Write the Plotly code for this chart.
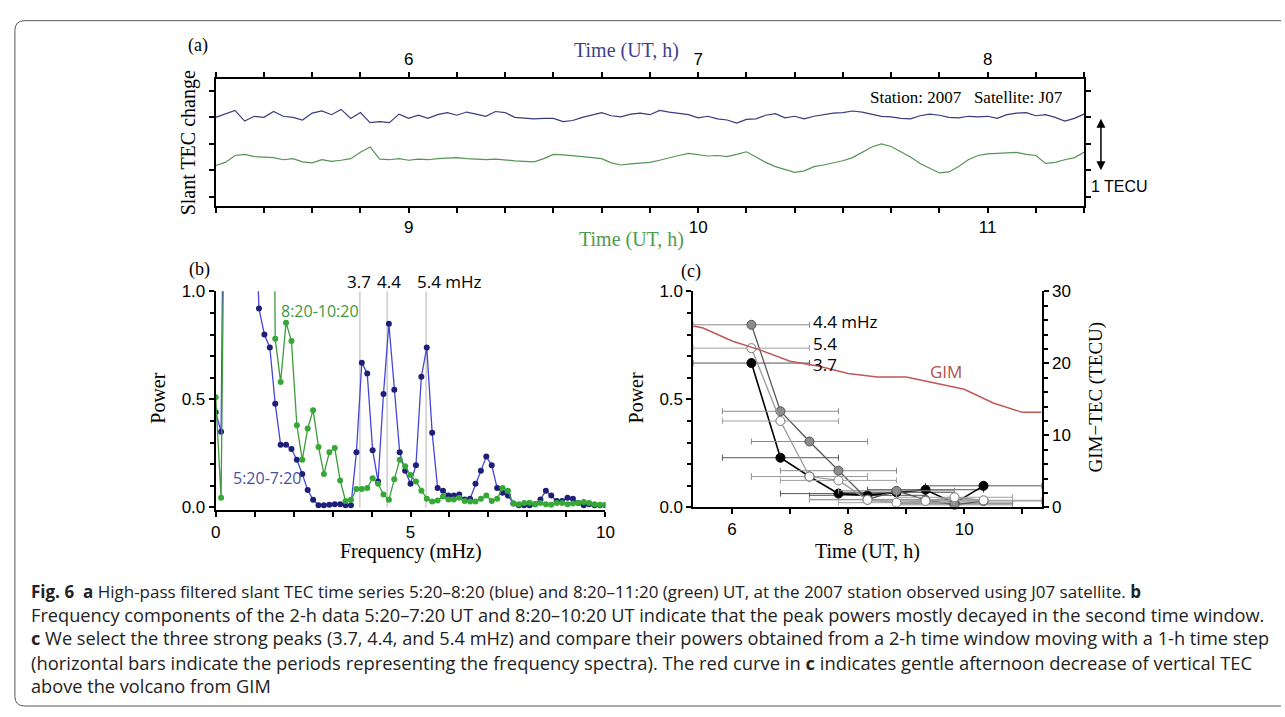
import plotly.graph_objects as go

W, H = 1285, 717

# ---------------- data ----------------
# (a) high-pass filtered slant TEC change (TECU), one sample every 2 min
SAMPLE_MIN = 2
BLUE_START_H = 5 + 20 / 60    # 5:20 UT
GREEN_START_H = 8 + 20 / 60   # 8:20 UT
BLUE_TEC = [0.0, 0.06, 0.13, -0.07, 0.02, 0.0, 0.11, 0.02, 0.0, -0.05,
            0.08, 0.12, 0.05, 0.15, -0.02, 0.09, -0.1, -0.08, -0.1, 0.06,
            -0.02, 0.04, -0.02, 0.05, 0.09, 0.04, 0.1, 0.06, 0.02, 0.11,
            0.09, 0.0, -0.02, -0.03, -0.02, -0.02, -0.08, -0.06, 0.0, 0.05,
            0.09, 0.03, 0.01, 0.06, 0.08, 0.05, 0.13, 0.1, 0.07, 0.05,
            -0.01, 0.02, -0.03, -0.05, -0.11, -0.04, -0.03, 0.04, 0.07, -0.01,
            0.02, -0.03, 0.02, 0.05, 0.08, 0.09, 0.12, 0.1, 0.06, 0.02,
            0.01, -0.02, -0.03, 0.03, 0.06, 0.04, 0.0, -0.01, 0.02, 0.01,
            0.02, -0.02, 0.05, 0.08, 0.09, 0.03, 0.05, 0.0, -0.07, -0.02,
            0.06]
GREEN_TEC = [-0.91, -0.85, -0.72, -0.7, -0.74, -0.75, -0.76, -0.8, -0.78, -0.84,
             -0.86, -0.8, -0.83, -0.81, -0.78, -0.66, -0.56, -0.79, -0.8, -0.78,
             -0.81, -0.79, -0.8, -0.78, -0.77, -0.76, -0.78, -0.79, -0.8, -0.79,
             -0.81, -0.82, -0.83, -0.84, -0.78, -0.7, -0.71, -0.72, -0.74, -0.76,
             -0.78, -0.86, -0.9, -0.88, -0.87, -0.85, -0.81, -0.76, -0.72, -0.68,
             -0.7, -0.73, -0.72, -0.74, -0.7, -0.65, -0.75, -0.85, -0.93, -0.98,
             -1.04, -1.01, -0.93, -0.9, -0.86, -0.82, -0.76, -0.66, -0.56, -0.5,
             -0.55, -0.65, -0.75, -0.87, -0.96, -1.05, -1.03, -0.93, -0.8, -0.72,
             -0.69, -0.68, -0.68, -0.66, -0.7, -0.72, -0.87, -0.85, -0.8, -0.76,
             -0.66]
TOP_TICKS = [6, 7, 8]
BOTTOM_TICKS = [9, 10, 11]
SCALE_BAR_TECU = 1

# (b) spectra; frequency bins of a 2-h window (1/7200 s = 1/7.2 mHz)
FREQ_STEP_MHZ = 1 / 7.2
POWER_BLUE = [0.44, 0.35, 3.0, 5.0, 6.0, 5.0, 4.0, 1.6, 0.92, 0.80,
              0.74, 0.48, 0.29, 0.29, 0.27, 0.22, 0.155, 0.08, 0.035, 0.01,
              0.01, 0.012, 0.015, 0.015, 0.01, 0.01, 0.255, 0.67, 0.62, 0.265,
              0.12, 0.525, 0.85, 0.545, 0.255, 0.17, 0.11, 0.195, 0.605, 0.74,
              0.345, 0.09, 0.077, 0.055, 0.055, 0.06, 0.036, 0.04, 0.11, 0.17,
              0.235, 0.195, 0.09, 0.068, 0.055, 0.018, 0.01, 0.01, 0.01, 0.015,
              0.036, 0.077, 0.055, 0.03, 0.03, 0.045, 0.04, 0.02, 0.01, 0.015,
              0.01, 0.01, 0.01]
POWER_GREEN = [0.51, 0.045, 2.5, 3.0, 4.0, 3.0, 2.5, 2.0, 2.5, 3.0,
               4.0, 0.78, 0.58, 0.855, 0.77, 0.38, 0.22, 0.365, 0.45, 0.28,
               0.155, 0.255, 0.275, 0.125, 0.03, 0.035, 0.085, 0.085, 0.09, 0.135,
               0.11, 0.06, 0.035, 0.13, 0.22, 0.19, 0.15, 0.12, 0.077, 0.04,
               0.027, 0.032, 0.05, 0.036, 0.036, 0.045, 0.03, 0.027, 0.027, 0.04,
               0.055, 0.03, 0.04, 0.09, 0.077, 0.018, 0.015, 0.02, 0.022, 0.015,
               0.02, 0.015, 0.012, 0.02, 0.02, 0.015, 0.018, 0.02, 0.025, 0.02,
               0.015, 0.012, 0.012]
PEAKS_MHZ = [3.7, 4.4, 5.4]
PEAK_LABELS = ["3.7", "4.4", "5.4 mHz"]

# (c) peak power in a moving 2-h window, plus GIM vertical TEC
HALF_WINDOW_H = 1.0
T_CENTER = [6.333, 6.833, 7.333, 7.833, 8.333, 8.833, 9.333, 9.833, 10.333]
P_37 = [0.668, 0.23, 0.143, 0.064, 0.056, 0.07, 0.082, 0.02, 0.10]
P_44 = [0.845, 0.445, 0.305, 0.17, 0.037, 0.077, 0.035, 0.012, 0.03]
P_54 = [0.737, 0.40, 0.143, 0.125, 0.035, 0.022, 0.03, 0.047, 0.033]
GIM_T = [5.333, 5.5, 6.0, 6.5, 7.0, 7.5, 8.0, 8.5, 9.0, 9.5, 10.0, 10.5, 11.0, 11.333]
GIM_TEC = [25.2, 24.9, 23.1, 21.8, 20.3, 19.6, 18.6, 18.1, 18.1, 17.3, 16.4, 14.5, 13.2, 13.2]

# ---------------- style ----------------
SERIF = "Liberation Serif, Times New Roman, serif"
SANS = "Liberation Sans, Arial, sans-serif"
MYR = "Open Sans, Noto Sans, sans-serif"
BLUE_A = "#3b3b7c"
GREEN_A = "#549454"
BLUE_TITLE = "#3f3f8f"
GREEN_TITLE = "#4c9c4c"


def fx(px):
    return px / W


def fy(py):
    return 1 - py / H


blue_t = [BLUE_START_H + i * SAMPLE_MIN / 60 for i in range(len(BLUE_TEC))]
green_t = [GREEN_START_H + i * SAMPLE_MIN / 60 for i in range(len(GREEN_TEC))]
freqs = [k * FREQ_STEP_MHZ for k in range(len(POWER_BLUE))]

fig = go.Figure()

# (a)
fig.add_trace(go.Scatter(x=blue_t, y=BLUE_TEC, xaxis="x2", yaxis="y", mode="lines",
                         line=dict(color=BLUE_A, width=1.2), showlegend=False))
fig.add_trace(go.Scatter(x=green_t, y=GREEN_TEC, xaxis="x", yaxis="y", mode="lines",
                         line=dict(color=GREEN_A, width=1.2), showlegend=False))

# (b)
fig.add_trace(go.Scatter(x=freqs, y=POWER_BLUE, xaxis="x3", yaxis="y3", mode="lines+markers",
                         line=dict(color="#4646d6", width=1.3),
                         marker=dict(color="#1f1f7a", size=6), showlegend=False))
fig.add_trace(go.Scatter(x=freqs, y=POWER_GREEN, xaxis="x3", yaxis="y3", mode="lines+markers",
                         line=dict(color="#3e9a3e", width=1.3),
                         marker=dict(color="#36a836", size=6), showlegend=False))

# (c)
fig.add_trace(go.Scatter(x=GIM_T, y=GIM_TEC, xaxis="x4", yaxis="y5", mode="lines",
                         line=dict(color="#c0585a", width=1.5), showlegend=False))
series_c = [
    (P_37, "#000000", "#000000", "#000000", "#555555", 1.6),
    (P_44, "#555555", "#8c8c8c", "#555555", "#8a8a8a", 1.3),
    (P_54, "#9a9a9a", "#ffffff", "#777777", "#a0a0a0", 1.3),
]
for vals, lcol, mfill, mline, ecol, lw in series_c:
    fig.add_trace(go.Scatter(
        x=T_CENTER, y=vals, xaxis="x4", yaxis="y4", mode="lines+markers",
        line=dict(color=lcol, width=lw),
        marker=dict(color=mfill, size=9, line=dict(color=mline, width=1)),
        error_x=dict(type="constant", value=HALF_WINDOW_H, thickness=1, width=3, color=ecol),
        cliponaxis=False, showlegend=False))

tickfont = dict(family=SANS, size=17, color="black")
axis_common = dict(showgrid=False, zeroline=False, showline=True, linecolor="black",
                   linewidth=2, ticks="outside", ticklen=5, tickwidth=1.5,
                   tickcolor="black", tickfont=tickfont)

dom_a_x = [fx(213), fx(1091)]
dom_a_y = [fy(202), fy(72)]
dom_b_x = [fx(213), fx(607)]
dom_b_y = [fy(515), fy(290)]
dom_c_x = [fx(696), fx(1048)]
dom_c_y = [fy(512), fy(290)]

fig.update_layout(
    width=W, height=H, margin=dict(l=0, r=0, t=0, b=0),
    paper_bgcolor="white", plot_bgcolor="rgba(0,0,0,0)",
    xaxis=dict(axis_common, domain=dom_a_x, anchor="y",
               range=[GREEN_START_H, GREEN_START_H + 3], tickvals=BOTTOM_TICKS,
               minor=dict(dtick=1 / 6, tick0=9, ticks="outside", ticklen=5, tickcolor="black")),
    xaxis2=dict(axis_common, domain=dom_a_x, anchor="y", overlaying="x", side="top",
                range=[BLUE_START_H, BLUE_START_H + 3], tickvals=TOP_TICKS,
                minor=dict(dtick=1 / 6, tick0=6, ticks="outside", ticklen=5, tickcolor="black")),
    yaxis=dict(axis_common, domain=dom_a_y, anchor="x", range=[-1.667, 0.722],
               tick0=0, dtick=0.5, showticklabels=False, mirror="allticks"),
    xaxis3=dict(axis_common, domain=dom_b_x, anchor="y3", range=[0, 10],
                tick0=0, dtick=5,
                minor=dict(dtick=1, ticks="outside", ticklen=5, tickcolor="black")),
    yaxis3=dict(axis_common, domain=dom_b_y, anchor="x3", range=[-0.0137, 1.0],
                tick0=0, dtick=0.5, tickformat=".1f",
                minor=dict(dtick=0.1, ticks="outside", ticklen=4, tickcolor="black")),
    xaxis4=dict(axis_common, domain=dom_c_x, anchor="y4", range=[5.3333, 11.3333],
                tick0=6, dtick=2,
                minor=dict(dtick=1, ticks="outside", ticklen=5, tickcolor="black")),
    yaxis4=dict(axis_common, domain=dom_c_y, anchor="x4", range=[0, 1.0],
                tick0=0, dtick=0.5, tickformat=".1f",
                minor=dict(dtick=0.1, ticks="outside", ticklen=4, tickcolor="black")),
    yaxis5=dict(axis_common, domain=dom_c_y, anchor="x4", overlaying="y4", side="right",
                range=[0, 30], tick0=0, dtick=10,
                minor=dict(dtick=2, ticks="outside", ticklen=4, tickcolor="black")),
)

shapes = []
for f in PEAKS_MHZ:
    shapes.append(dict(type="line", xref="x3", yref="y3", x0=f, x1=f, y0=0, y1=1,
                       line=dict(color="#cccccc", width=1.5), layer="below"))
# rounded frame around the whole figure
r = 10
path = (f"M {fx(1290)},{fy(12)} L {fx(10 + r)},{fy(12)} "
        f"Q {fx(10)},{fy(12)} {fx(10)},{fy(12 + r)} "
        f"L {fx(10)},{fy(716 - r)} Q {fx(10)},{fy(716)} {fx(10 + r)},{fy(716)} "
        f"L {fx(1290)},{fy(716)}")
shapes.append(dict(type="path", xref="paper", yref="paper", path=path,
                   line=dict(color="#555555", width=1)))
fig.update_layout(shapes=shapes)


def txt(s, x, y, size, family, color="black", xanchor="center", angle=0):
    return dict(text=s, x=fx(x), y=fy(y), xref="paper", yref="paper", showarrow=False,
                font=dict(size=size, family=family, color=color),
                xanchor=xanchor, yanchor="middle", textangle=angle)


ann = [
    txt("(a)", 195, 38, 18, SERIF),
    txt("Time (UT, h)", 628, 43, 20, SERIF, BLUE_TITLE),
    txt("Time (UT, h)", 633, 237, 20, SERIF, GREEN_TITLE),
    txt("Slant TEC change", 185, 137, 20, SERIF, angle=-90),
    txt("Station: 2007   Satellite: J07", 1072, 91, 17, SERIF, xanchor="right"),
    txt("1 TECU", 1096, 182, 16, SANS, xanchor="left"),
    txt("(b)", 197, 268, 18, SERIF),
    txt("Power", 155, 400, 20, SERIF, angle=-90),
    txt("Frequency (mHz)", 410, 557, 20, SERIF),
    txt("8:20-10:20", 277, 310, 16, MYR, "#3e9a3e", xanchor="left"),
    txt("5:20-7:20", 228, 482, 16, MYR, "#4a52a0", xanchor="left"),
    txt("(c)", 694, 270, 18, SERIF),
    txt("Power", 638, 400, 20, SERIF, angle=-90),
    txt("Time (UT, h)", 872, 557, 20, SERIF),
    txt("GIM\u2212TEC (TECU)", 1103, 398, 19, SERIF, angle=-90),
    txt("GIM", 951, 372, 17, MYR, "#b05050"),
]
# peak labels in (b)
for f, lab in zip(PEAKS_MHZ, PEAK_LABELS):
    if "mHz" in lab:
        anchor, shift = "left", -11
    else:
        anchor, shift = "center", (2 if f > 4 else -1)
    ann.append(dict(text=lab, x=f, y=fy(280), xref="x3", yref="paper", showarrow=False,
                    font=dict(size=17, family=MYR, color="black"),
                    xanchor=anchor, xshift=shift, yanchor="middle"))
# labels at the right end of the first window bar in (c)
for vals, lab, ys in [(P_44, "4.4 mHz", 3), (P_54, "5.4", 5), (P_37, "3.7", -1)]:
    ann.append(dict(text=lab, x=T_CENTER[0] + HALF_WINDOW_H, y=vals[0], xref="x4", yref="y4",
                    showarrow=False, font=dict(size=17, family=MYR, color="black"),
                    xanchor="left", xshift=2, yshift=ys, yanchor="middle"))
# 1 TECU scale arrow
ann.append(dict(x=fx(1108), y=-SCALE_BAR_TECU, xref="paper", yref="y", ax=0, ay=0,
                axref="pixel", ayref="y", showarrow=True, arrowhead=2, arrowsize=1.2,
                arrowwidth=1.5, arrowcolor="black", arrowside="end+start", text=""))

caption = [
    ("<b>Fig. 6</b>  <b>a</b> High-pass filtered slant TEC time series 5:20\u20138:20 (blue) and 8:20\u201311:20 (green) UT, at the 2007 station observed using J07 satellite. <b>b</b>", 17.0),
    ("Frequency components of the 2-h data 5:20\u20137:20 UT and 8:20\u201310:20 UT indicate that the peak powers mostly decayed in the second time window.", 18.2),
    ("<b>c</b> We select the three strong peaks (3.7, 4.4, and 5.4 mHz) and compare their powers obtained from a 2-h time window moving with a 1-h time step", 18.2),
    ("(horizontal bars indicate the periods representing the frequency spectra). The red curve in <b>c</b> indicates gentle afternoon decrease of vertical TEC", 18.4),
    ("above the volcano from GIM", 18.2),
]
for i, (line, size) in enumerate(caption):
    ann.append(txt(line, 24, 598 + i * 24.3, size, MYR, "#222222", xanchor="left"))

fig.update_layout(annotations=ann)
fig.write_html("out.html")
